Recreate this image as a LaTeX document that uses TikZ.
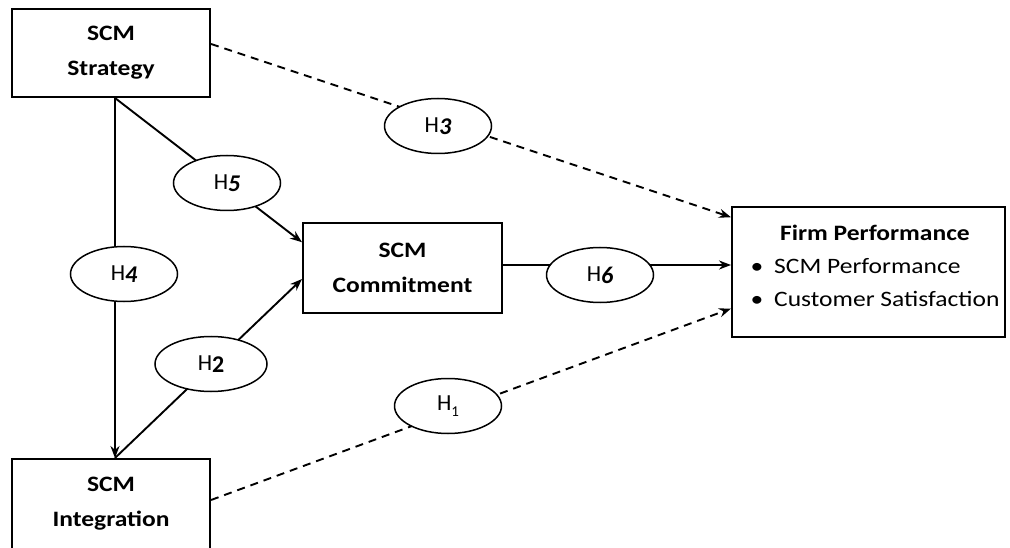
\documentclass[tikz,border=0pt]{standalone}
\usepackage{fontspec}
\setmainfont{Carlito}
\newfontfamily\widefont{Carlito}[FakeStretch=1.16]
\usetikzlibrary{shapes.geometric,arrows.meta,calc}

% hypothesis label: H with a lowered bold-italic digit
\newcommand\hypnum[1]{H\raisebox{-0.22ex}{\fontsize{24}{24}\selectfont\textbf{\textit{#1}}}}

\begin{document}
\begin{tikzpicture}[x=1pt,y=-1pt,
  box/.style={draw,line width=2pt,fill=white,align=center,inner sep=0pt,
    font=\widefont\fontsize{22}{35}\selectfont\bfseries},
  hyp/.style={draw,ellipse,line width=1.5pt,fill=white,minimum width=107pt,
    minimum height=55pt,inner sep=0pt,font=\fontsize{23}{24}\selectfont},
  link/.style={line width=1.9pt,-{Stealth[length=12pt,width=9pt]}},
  dlink/.style={link,dash pattern=on 8pt off 6pt}]
\useasboundingbox (0,0) rectangle (1010,548);
\clip (0,0) rectangle (1010,548);

% constructs
\node[box,minimum width=198pt,minimum height=88pt] (strat) at (111,53) {SCM\\Strategy};
\node[box,minimum width=198pt,minimum height=90pt] (integ) at (111,504) {SCM\\Integration};
\node[box,minimum width=199pt,minimum height=90pt] (commit) at (402.5,268) {SCM\\Commitment};
\node[box,minimum width=273pt,minimum height=130pt] (firm) at (868.5,272) {};
\node[align=left,inner sep=0pt,font=\widefont\fontsize{22}{33}\selectfont] (firmtext) at (875,267)
  {\begin{tabular}{@{}l@{}}
    \multicolumn{1}{@{}c@{}}{\textbf{Firm Performance}}\\
    \textbullet\hspace{11pt}SCM Performance\\
    \textbullet\hspace{11pt}Customer Satisfaction
  \end{tabular}};

% paths
\draw[link] ([xshift=4pt]strat.south) -- ([xshift=4pt]integ.north);
\draw[link] ([xshift=4pt]strat.south) -- ($(commit.north west)!0.22!(commit.south west)$);
\draw[link] ([xshift=4pt]integ.north) -- ($(commit.north west)!0.62!(commit.south west)$);
\draw[link] ([yshift=3pt]commit.east) coordinate (c6) -- (c6 -| firm.west);
\draw[dlink] ([yshift=9pt]strat.east) -- ($(firm.north west)!0.085!(firm.south west)$);
\draw[dlink] ([yshift=4pt]integ.east) -- ($(firm.north west)!0.777!(firm.south west)$);

% hypotheses
\node[hyp] (h3) at (438,126) {\hypnum{3}};
\node[hyp] (h5) at (227,183) {\hypnum{5}};
\node[hyp] (h4) at (124,274) {\hypnum{4}};
\node[hyp,minimum width=112pt] (h2) at (211,364) {H\raisebox{-0.22ex}{\fontsize{24}{24}\selectfont\textbf{2}}};
\node[hyp] (h6) at (600,275) {\hypnum{6}};
\node[hyp] (h1) at (448,406) {H\raisebox{-0.5ex}{\fontsize{15}{15}\selectfont 1}};
\end{tikzpicture}
\end{document}
